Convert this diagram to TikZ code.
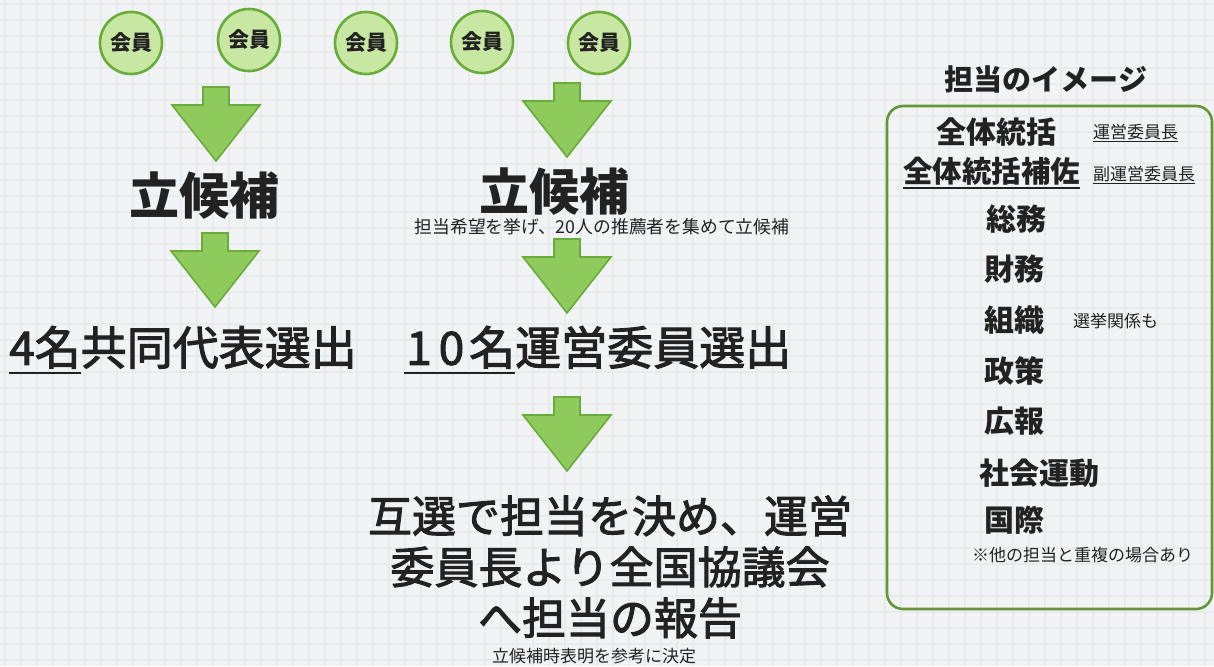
\documentclass[tikz,border=0pt]{standalone}
\usepackage{fontspec}
\setmainfont{Noto Sans CJK JP}
\newfontfamily\jpmed{Noto Sans CJK JP}[FakeBold=2.2]
\definecolor{bgc}{RGB}{241,243,244}
\definecolor{gridc}{RGB}{232,235,238}
\definecolor{gborder}{RGB}{106,172,58}
\definecolor{afill}{RGB}{142,202,92}
\definecolor{cfill}{RGB}{200,231,162}
\definecolor{pborder}{RGB}{100,150,55}
\definecolor{txt}{RGB}{34,34,34}
\newcommand\myul[1]{\setbox0\hbox{#1}\rlap{\color{txt}\rule[-0.2em]{\wd0}{1.6pt}}\box0}
\newcommand\thinul[1]{\setbox0\hbox{#1}\rlap{\color{txt}\rule[-0.18em]{\wd0}{0.8pt}}\box0}
\begin{document}
\begin{tikzpicture}[x=1pt,y=-1pt,
  member/.style={circle,minimum size=62pt,inner sep=0pt,draw=gborder,line width=2.6pt,fill=cfill,text=txt,font=\bfseries\fontsize{21}{21}\selectfont},
  bigt/.style={inner sep=0pt,text=txt,font=\bfseries\fontsize{50}{50}\selectfont},
  midt/.style={inner sep=0pt,text=txt,font=\jpmed\fontsize{46}{46}\selectfont},
  smallt/.style={inner sep=0pt,text=txt,font=\fontsize{17}{17}\selectfont},
  itemt/.style={inner sep=0pt,anchor=west,text=txt,font=\bfseries\fontsize{30}{30}\selectfont},
  panelbox/.style={draw=pborder,line width=2.6pt,rounded corners=16pt,inner sep=0pt},
  downarrow/.pic={\draw[draw=gborder,fill=afill,line width=1.6pt,line join=miter]
     (-13,0) -- (13,0) -- (13,18) -- (44,18) -- (0,74) -- (-44,18) -- (-13,18) -- cycle;}
]
\fill[bgc] (0,0) rectangle (1214,666);
\useasboundingbox (0,0) rectangle (1214,666);
\foreach \i in {0,...,76} \draw[gridc,line width=1.2pt] (\i*16+5,0) -- (\i*16+5,666);
\foreach \j in {0,...,41} \draw[gridc,line width=1.2pt] (0,\j*16+4) -- (1214,\j*16+4);

% members
\node[member] (m1) at (131,43) {会員};
\node[member] (m2) at (249,40) {会員};
\node[member] (m3) at (366,43) {会員};
\node[member] (m4) at (482,42) {会員};
\node[member] (m5) at (599,43) {会員};

% arrows
\pic at (216,87) {downarrow};
\pic at (567,83) {downarrow};
\pic at (215,233) {downarrow};
\pic at (567,239) {downarrow};
\pic at (567,397) {downarrow};

% left column
\node[bigt] (c1) at (204,196) {立候補};
\node[midt,anchor=west] (e1) at (9,350) {\myul{4名}共同代表選出};

% middle column
\node[bigt] (c2) at (554,192) {立候補};
\node[smallt,font=\fontsize{17.8}{17.8}\selectfont] (c2note) at (602,227) {担当希望を挙げ、20人の推薦者を集めて立候補};
\node[midt,anchor=west] (e2) at (404,350) {\myul{\kern2pt 1\kern7pt 0\kern5pt 名}運営委員選出};
\node[midt,align=center,font=\jpmed\fontsize{44}{51}\selectfont] (final) at (610,567) {互選で担当を決め、運営\\委員長より全国協議会\\へ担当の報告};
\node[smallt] (fnote) at (594,656) {立候補時表明を参考に決定};

% right panel
\node[inner sep=0pt,text=txt,font=\bfseries\fontsize{29}{29}\selectfont] (ptitle) at (1046,79) {担当のイメージ};
\node[panelbox,minimum width=325pt,minimum height=503pt] (panel) at (1049.5,357.5) {};
\node[itemt] (i1) at (936,132) {全体統括};
\node[smallt,anchor=west] (i1n) at (1093,133) {\thinul{運営委員長}};
\node[itemt,font=\bfseries\fontsize{29.5}{29.5}\selectfont] (i2) at (903,173) {\myul{全体統括補佐}};
\node[smallt,anchor=west] (i2n) at (1093,175) {\thinul{副運営委員長}};
\node[itemt] (i3) at (986,219) {総務};
\node[itemt] (i4) at (984,269) {財務};
\node[itemt] (i5) at (984,320) {組織};
\node[smallt,anchor=west] (i5n) at (1073,321) {選挙関係も};
\node[itemt] (i6) at (984,371) {政策};
\node[itemt] (i7) at (984,421) {広報};
\node[itemt] (i8) at (979,473) {社会運動};
\node[itemt] (i9) at (984,520) {国際};
\node[smallt,anchor=west] (i9n) at (972,555) {※他の担当と重複の場合あり};
\end{tikzpicture}
\end{document}
